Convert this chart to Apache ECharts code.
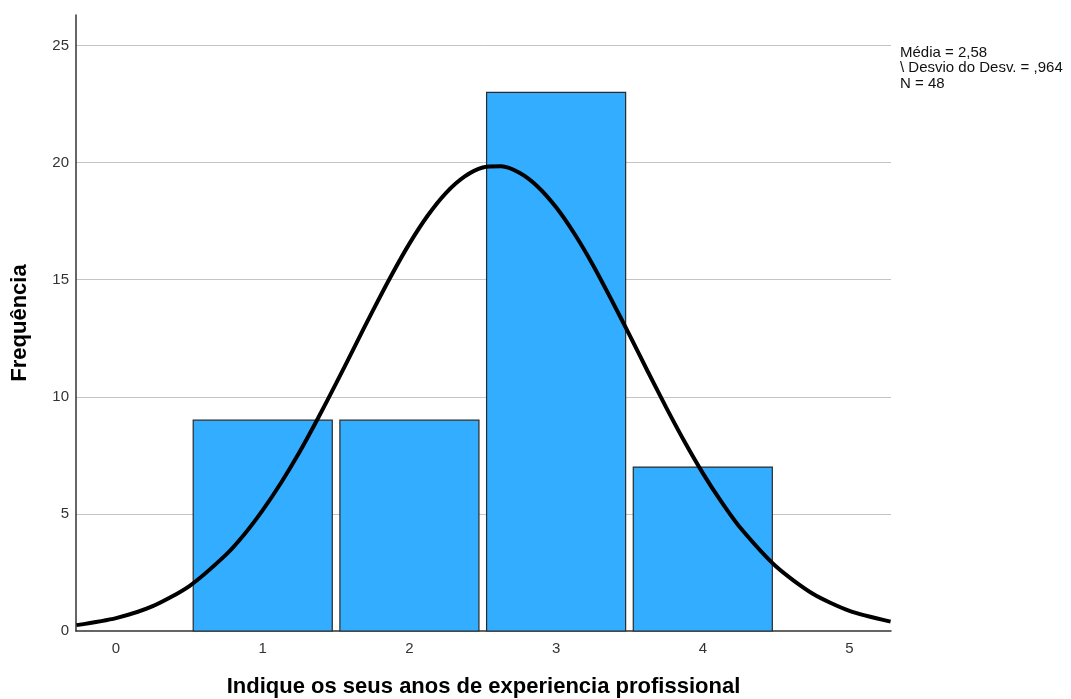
<!DOCTYPE html>
<html>
<head>
<meta charset="utf-8">
<script src="https://cdn.jsdelivr.net/npm/echarts@6/dist/echarts.min.js"></script>
<style>
  html, body { margin: 0; padding: 0; background: #fff; }
  #chart { width: 1071px; height: 699px; }
</style>
</head>
<body>
<div id="chart"></div>
<script>
// Histogram bins: years of professional experience and their frequencies
const binCenters = [1, 2, 3, 4];
const frequencies = [9, 9, 23, 7];

// Fitted normal curve (x, frequency) sampled along the axis
const curveX = [-0.27, 0, 0.25, 0.5, 0.75, 0.875, 1, 1.125, 1.25, 1.375, 1.5, 1.625, 1.75, 1.875, 2, 2.125, 2.25, 2.375, 2.5, 2.625, 2.75, 2.875, 3, 3.125, 3.25, 3.375, 3.5, 3.625, 3.75, 3.875, 4, 4.125, 4.25, 4.5, 4.75, 5, 5.28];
const curveY = [0.25, 0.55, 1.06, 1.92, 3.26, 4.13, 5.16, 6.33, 7.63, 9.06, 10.57, 12.12, 13.67, 15.16, 16.54, 17.74, 18.71, 19.40, 19.79, 19.84, 19.56, 18.97, 18.09, 16.96, 15.64, 14.17, 12.64, 11.08, 9.55, 8.09, 6.74, 5.53, 4.45, 2.75, 1.59, 0.86, 0.40];

// Axis tick labels
const xTicks = ['0', '1', '2', '3', '4', '5'];
const yTicks = ['0', '5', '10', '15', '20', '25'];

// Summary statistics shown beside the plot
const statsLines = ['Média = 2,58', '\\ Desvio do Desv. = ,964', 'N = 48'];

const barHalfWidth = 0.474;
const font = '"Liberation Sans", Arial, sans-serif';

const chart = echarts.init(document.getElementById('chart'), null, { renderer: 'canvas' });

chart.setOption({
  animation: false,
  backgroundColor: '#ffffff',
  grid: { left: 76, right: 180, top: 15, bottom: 68, containLabel: false, outerBoundsMode: 'none' },
  xAxis: {
    type: 'value',
    min: -0.273,
    max: 5.283,
    name: 'Indique os seus anos de experiencia profissional',
    nameLocation: 'middle',
    nameGap: 45,
    nameTextStyle: { fontFamily: font, fontSize: 22, fontWeight: 'bold', color: '#000' },
    axisLine: { show: true, onZero: false, lineStyle: { color: '#333', width: 1.5 } },
    axisTick: { show: false },
    splitLine: { show: false },
    axisLabel: {
      fontFamily: font, fontSize: 15, color: '#333', margin: 10,
      customValues: xTicks.map(Number),
      formatter: v => {
        const i = Math.round(v);
        return i >= 0 && i < xTicks.length ? xTicks[i] : '';
      }
    }
  },
  yAxis: {
    type: 'value',
    min: 0,
    max: 26.3,
    interval: 5,
    name: 'Frequência',
    nameLocation: 'middle',
    nameGap: 45,
    nameRotate: 90,
    nameTextStyle: { fontFamily: font, fontSize: 22, fontWeight: 'bold', color: '#000' },
    axisLine: { show: true, onZero: false, lineStyle: { color: '#333', width: 1.5 } },
    axisTick: { show: false },
    splitLine: { show: true, showMinLine: false, showMaxLine: false, lineStyle: { color: '#c4c4c4', width: 1 } },
    axisLabel: {
      fontFamily: font, fontSize: 15, color: '#333', margin: 7,
      showMaxLabel: false,
      formatter: v => {
        const i = Math.round(v / 5);
        return Math.abs(v - i * 5) < 1e-6 && i < yTicks.length ? yTicks[i] : '';
      }
    }
  },
  series: [
    {
      type: 'custom',
      data: binCenters.map((c, i) => [c, frequencies[i]]),
      renderItem: (params, api) => {
        const x = api.value(0);
        const y = api.value(1);
        const p0 = api.coord([x - barHalfWidth, y]);
        const p1 = api.coord([x + barHalfWidth, 0]);
        return {
          type: 'rect',
          shape: { x: p0[0], y: p0[1], width: p1[0] - p0[0], height: p1[1] - p0[1] },
          style: { fill: '#33adff', stroke: '#2a2a2a', lineWidth: 1.2 }
        };
      },
      z: 2
    },
    {
      type: 'line',
      data: curveX.map((x, i) => [x, curveY[i]]),
      smooth: 0.25,
      showSymbol: false,
      lineStyle: { color: '#000', width: 4 },
      z: 3
    }
  ],
  graphic: [{
    type: 'text',
    left: 900,
    top: 45,
    style: {
      text: statsLines.join('\n'),
      font: '15px ' + font,
      fill: '#111',
      lineHeight: 15.5
    }
  }]
});
</script>
</body>
</html>
